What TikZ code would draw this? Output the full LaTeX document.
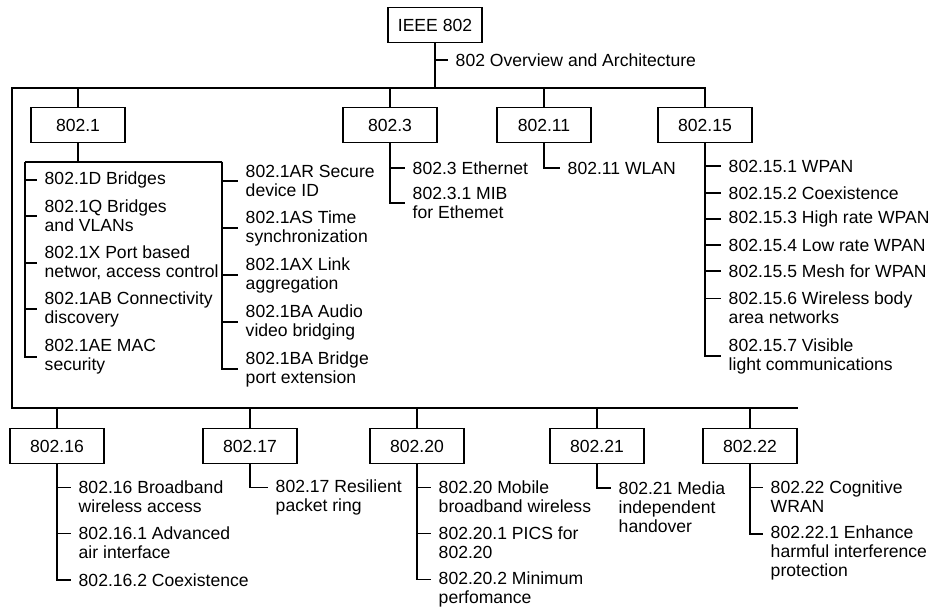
\documentclass[tikz,border=0pt]{standalone}
\usepackage{fontspec}
\setmainfont{Liberation Sans}
\begin{document}
\begin{tikzpicture}[
x=0.02cm, y=-0.02cm,
line width=0.8pt,
box/.style={
draw,
minimum width=1.88cm,
minimum height=0.7cm,
inner sep=0pt,
font=\fontsize{10}{10.8}\selectfont
},
item/.style={
anchor=west,
align=left,
inner xsep=4pt,
inner ysep=0pt,
font=\fontsize{10}{10.8}\selectfont
}
]
\useasboundingbox (0,0) rectangle (934,608);

\node[box] (ieee) at (435,25) {IEEE 802};
\node[item] (ovw) at (448,60) {802 Overview and Architecture};

\node[box] (s1) at (78,125) {802.1};
\node[box] (s3) at (390,125) {802.3};
\node[box] (s11) at (544,125) {802.11};
\node[box] (s15) at (705,125) {802.15};

\node[box] (s16) at (57,446) {802.16};
\node[box] (s17) at (250,446) {802.17};
\node[box] (s20) at (417,446) {802.20};
\node[box] (s21) at (597,446) {802.21};
\node[box] (s22) at (750,446) {802.22};

\coordinate (tl) at (12,88);
\coordinate (bl) at (12,408);
\coordinate (br) at (798,408);

\draw (s15.north) |- (tl) -- (bl) -- (br);
\draw (ieee.south) -- (ieee.south |- tl);
\draw (ieee.south) |- (ovw.west);

\draw (s1.north) -- (s1.north |- tl);
\draw (s3.north) -- (s3.north |- tl);
\draw (s11.north) -- (s11.north |- tl);

\draw (s16.north) -- (s16.north |- bl);
\draw (s17.north) -- (s17.north |- bl);
\draw (s20.north) -- (s20.north |- bl);
\draw (s21.north) -- (s21.north |- bl);
\draw (s22.north) -- (s22.north |- bl);

\node[item] (d1) at (37,180) {802.1D Bridges};
\node[item] (q1) at (37,216) {802.1Q Bridges\\and VLANs};
\node[item] (x1) at (37,263) {802.1X Port based\\networ, access control};
\node[item] (ab1) at (37,309) {802.1AB Connectivity\\discovery};
\node[item] (ae1) at (37,357) {802.1AE MAC\\security};

\node[item] (ar1) at (238,181) {802.1AR Secure\\device ID};
\node[item] (as1) at (238,228) {802.1AS Time\\synchronization};
\node[item] (ax1) at (238,275) {802.1AX Link\\aggregation};
\node[item] (ba1) at (238,322) {802.1BA Audio\\video bridging};
\node[item] (bb1) at (238,369) {802.1BA Bridge\\port extension};

\coordinate (l1) at (25,162);
\coordinate (r1) at (222,162);

\draw (s1.south) -- (s1.south |- l1);
\draw (l1) -- (r1);
\draw (l1) |- (d1.west);
\draw (l1) |- (q1.west);
\draw (l1) |- (x1.west);
\draw (l1) |- (ab1.west);
\draw (l1) |- (ae1.west);
\draw (r1) |- (ar1.west);
\draw (r1) |- (as1.west);
\draw (r1) |- (ax1.west);
\draw (r1) |- (ba1.west);
\draw (r1) |- (bb1.west);

\node[item] (e3) at (405,168) {802.3 Ethernet};
\node[item] (m3) at (405,203) {802.3.1 MIB\\for Ethemet};
\draw (s3.south) |- (e3.west);
\draw (s3.south) |- (m3.west);

\node[item] (w11) at (560,168) {802.11 WLAN};
\draw (s11.south) |- (w11.west);

\node[item] (p151) at (721,166) {802.15.1 WPAN};
\node[item] (p152) at (721,193) {802.15.2 Coexistence};
\node[item] (p153) at (721,219) {802.15.3 High rate WPAN};
\node[item] (p154) at (721,245) {802.15.4 Low rate WPAN};
\node[item] (p155) at (721,271) {802.15.5 Mesh for WPAN};
\node[item] (p156) at (721,308) {802.15.6 Wireless body\\area networks};
\node[item] (p157) at (721,356) {802.15.7 Visible\\light communications};
\draw (s15.south) |- (p151.west);
\draw (s15.south) |- (p152.west);
\draw (s15.south) |- (p153.west);
\draw (s15.south) |- (p154.west);
\draw (s15.south) |- (p155.west);
\draw (s15.south) |- ([yshift=5.4pt]p156.west);
\draw (s15.south) |- (p157.west);

\node[item] (b16) at (71,497) {802.16 Broadband\\wireless access};
\node[item] (b161) at (71,543) {802.16.1 Advanced\\air interface};
\node[item] (b162) at (71,580) {802.16.2 Coexistence};
\draw (s16.south) |- ([yshift=5.4pt]b16.west);
\draw (s16.south) |- ([yshift=5.4pt]b161.west);
\draw (s16.south) |- (b162.west);

\node[item] (r17) at (268,497) {802.17 Resilient\\packet ring};
\draw (s17.south) |- ([yshift=5.4pt]r17.west);

\node[item] (m20) at (431,497) {802.20 Mobile\\broadband wireless};
\node[item] (m201) at (431,543) {802.20.1 PICS for\\802.20};
\node[item] (m202) at (431,589) {802.20.2 Minimum\\perfomance};
\draw (s20.south) |- ([yshift=5.4pt]m20.west);
\draw (s20.south) |- ([yshift=5.4pt]m201.west);
\draw (s20.south) |- ([yshift=5.4pt]m202.west);

\node[item] (h21) at (611,507) {802.21 Media\\independent\\handover};
\draw (s21.south) |- ([yshift=10.8pt]h21.west);

\node[item] (c22) at (763,497) {802.22 Cognitive\\WRAN};
\node[item] (c221) at (763,553) {802.22.1 Enhance\\harmful interference\\protection};
\draw (s22.south) |- ([yshift=5.4pt]c22.west);
\draw (s22.south) |- ([yshift=10.8pt]c221.west);

\end{tikzpicture}
\end{document}
